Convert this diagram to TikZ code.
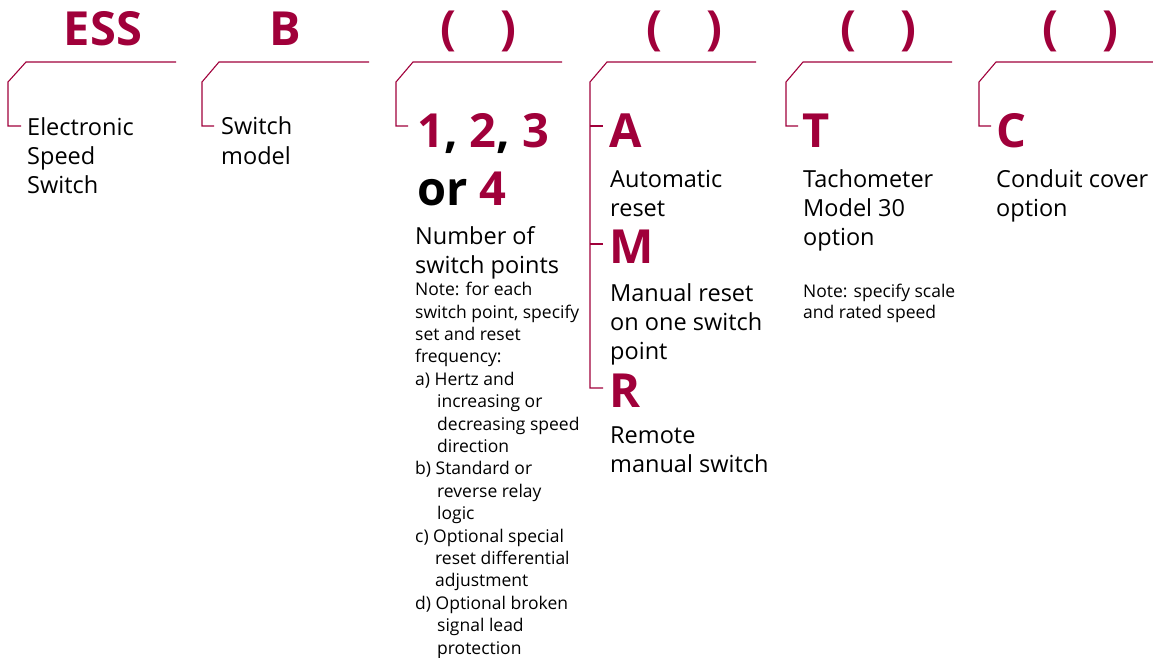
\documentclass[tikz,border=0pt]{standalone}
\usepackage{fontspec}
\setmainfont{Open Sans}
\definecolor{crim}{RGB}{160,0,58}
\begin{document}
\begin{tikzpicture}[x=1pt,y=-1pt,
  hdr/.style={font=\fontsize{47}{50}\selectfont\bfseries, text=crim, inner sep=0, anchor=base},
  big/.style={font=\fontsize{47}{58}\selectfont\bfseries, inner sep=0, anchor=base west, align=left},
  body/.style={font=\fontsize{23.5}{29}\selectfont, inner sep=0, anchor=base west, align=left},
  small/.style={font=\fontsize{17.5}{22.4}\selectfont, inner sep=0, anchor=base west, align=left},
  brk/.style={draw=crim, line width=1.1pt}]
\useasboundingbox (0,0) rectangle (1153,658);
% headers
\node[hdr] (hESS) at (103,46) {ESS};
\node[hdr] (hB) at (285,46) {B};
\node[hdr] (h3) at (478,45) {(\hspace{44pt})};
\node[hdr] (h4) at (684,45) {(\hspace{44pt})};
\node[hdr] (h5) at (878,45) {(\hspace{44pt})};
\node[hdr] (h6) at (1080,45) {(\hspace{44pt})};
% brackets
\draw[brk] (176,62) -- (26,62) -- (8,82) -- (8,126) -- (21,126);
\draw[brk] (369,62) -- (219,62) -- (202,82) -- (202,126) -- (214,126);
\draw[brk] (562,62) -- (413,62) -- (396,82) -- (396,126) -- (408,126);
\draw[brk] (756,62) -- (607,62) -- (590,82) -- (590,388) -- (603,388);
\draw[brk] (590,126) -- (603,126);
\draw[brk] (590,244) -- (603,244);
\draw[brk] (952,62) -- (803,62) -- (786,82) -- (786,126) -- (798,126);
\draw[brk] (1153,62) -- (996,62) -- (979,82) -- (979,126) -- (991,126);
% column 1 (base anchor = last line baseline)
\node[body] (t1) at (27,193) {Electronic\\Speed\\Switch};
% column 2
\node[body] (t2) at (221,164) {Switch\\model};
% column 3
\node[big] (c3) at (417,205) {\textcolor{crim}{1}, \textcolor{crim}{2}, \textcolor{crim}{3}\\or \textcolor{crim}{4}};
\node[body] (t3) at (415,273) {Number of\\switch points};
\node[small] (n3) at (415,654) {Note: for each\\switch point, specify\\set and reset\\frequency:\\a) Hertz and\\\hspace*{22pt}increasing or\\\hspace*{22pt}decreasing speed\\\hspace*{22pt}direction\\b) Standard or\\\hspace*{22pt}reverse relay\\\hspace*{22pt}logic\\c) Optional special\\\hspace*{20pt}reset differential\\\hspace*{20pt}adjustment\\d) Optional broken\\\hspace*{22pt}signal lead\\\hspace*{22pt}protection};
% column 4
\node[big, text=crim] (cA) at (609,147) {A};
\node[body] (tA) at (610,216) {Automatic\\reset};
\node[big, text=crim] (cM) at (609,263) {M};
\node[body] (tM) at (610,359) {Manual reset\\on one switch\\point};
\node[big, text=crim] (cR) at (609,407) {R};
\node[body] (tR) at (610,472) {Remote\\manual switch};
% column 5
\node[big, text=crim] (cT) at (802,147) {T};
\node[body] (tT) at (803,245) {Tachometer\\Model 30\\option};
\node[small, font=\fontsize{17.5}{21}\selectfont] (nT) at (803,318) {Note: specify scale\\and rated speed};
% column 6
\node[big, text=crim] (cC) at (996,147) {C};
\node[body] (tC) at (996,216) {Conduit cover\\option};
\end{tikzpicture}
\end{document}
